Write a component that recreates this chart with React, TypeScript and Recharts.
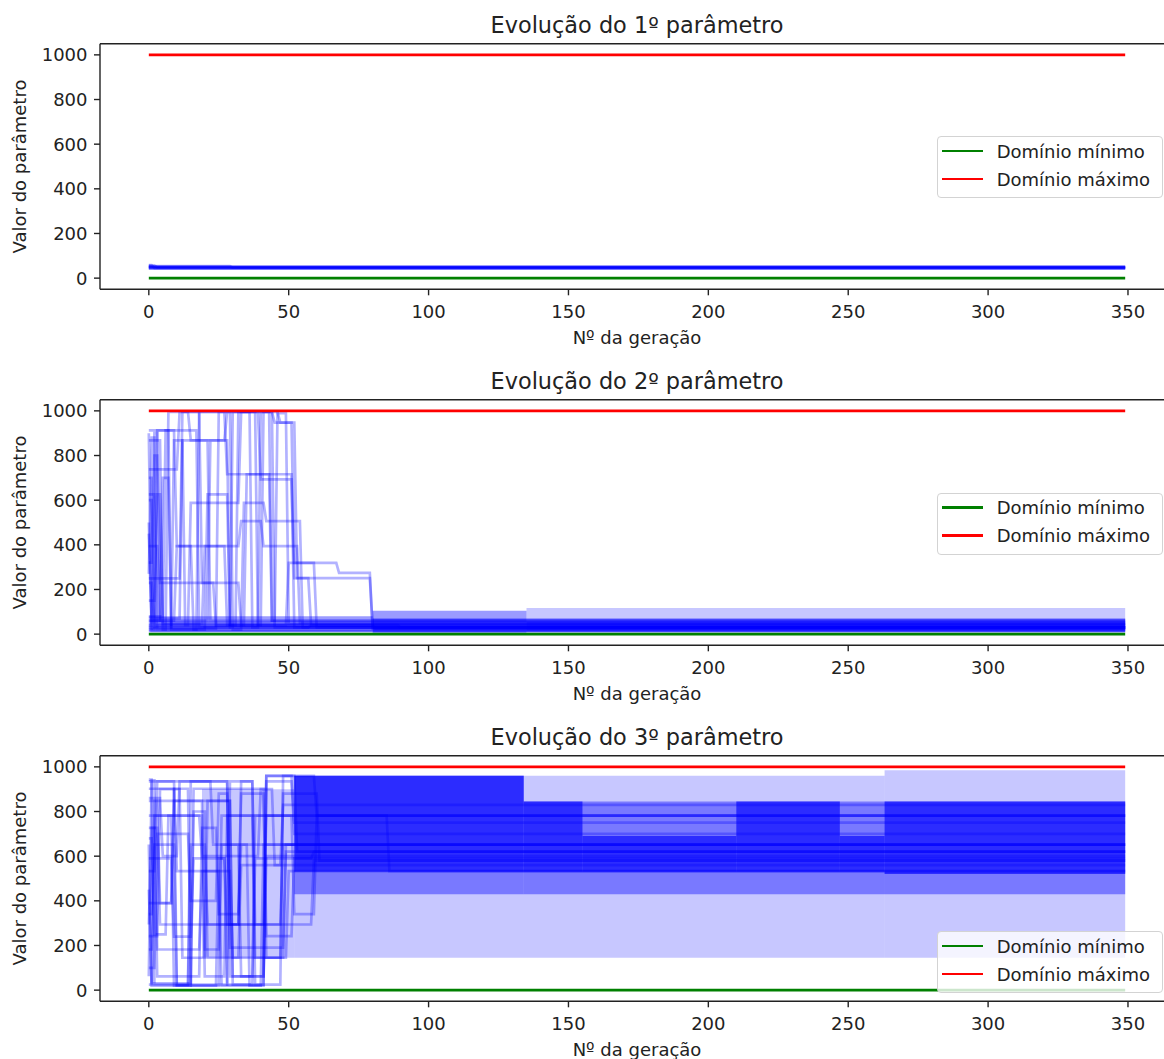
import React from 'react';
import { ComposedChart, Line, XAxis, YAxis, ReferenceArea, ReferenceLine, Legend } from 'recharts';

// generations run 0..349, parameter domain is 0..1000
const FIRST_GEN = 0;
const LAST_GEN = 349;
const DOMAIN_MIN = 0;
const DOMAIN_MAX = 1000;

const X_TICKS = [0, 50, 100, 150, 200, 250, 300, 350];
const Y_TICKS = [0, 200, 400, 600, 800, 1000];

const TITLES = [
  'Evolução do 1º parâmetro',
  'Evolução do 2º parâmetro',
  'Evolução do 3º parâmetro',
];
const X_LABEL = 'Nº da geração';
const Y_LABEL = 'Valor do parâmetro';
const LEGEND_NAMES = ['Domínio mínimo', 'Domínio máximo'];

// each individual: [generation, value] at every change of value
const P1_INDIVIDUALS: number[][][] = [
  [[0, 56], [3, 48]],
  [[0, 58], [2, 45]],
  [[0, 43]],
  [[0, 45]],
  [[0, 46]],
  [[0, 48]],
  [[0, 50]],
  [[0, 54], [30, 47]],
  [[0, 52]],
  [[0, 49]],
];

const P2_INDIVIDUALS: number[][][] = [
  [[0, 913], [18, 30], [58, 40], [81, 25]],
  [[0, 868], [5, 20], [7, 995], [15, 868], [29, 40], [90, 30]],
  [[0, 738], [11, 995], [28, 716], [52, 30]],
  [[0, 626], [3, 20], [21, 626], [29, 30]],
  [[0, 394], [4, 60], [10, 394], [33, 506], [41, 394], [54, 50]],
  [[0, 250], [12, 995], [19, 230], [33, 40]],
  [[0, 230], [2, 40], [15, 588], [33, 995], [45, 947], [52, 319], [68, 274], [80, 25]],
  [[0, 500], [1, 60], [22, 868], [28, 995], [40, 693], [52, 251], [80, 30]],
  [[0, 150], [3, 913], [8, 30], [30, 995], [44, 60]],
  [[0, 60], [5, 700], [8, 20], [18, 995], [39, 40]],
  [[0, 30], [9, 868], [13, 40], [32, 995], [37, 30]],
  [[0, 80], [6, 913], [10, 394], [16, 20], [34, 588], [42, 506], [55, 30]],
  [[0, 40], [2, 800], [4, 230], [24, 40], [41, 995], [47, 947], [53, 251], [58, 40]],
  [[0, 20], [3, 626], [5, 45], [20, 394], [28, 40], [50, 319], [60, 30]],
  [[0, 700], [2, 30], [40, 995], [45, 30]],
  [[0, 450], [1, 25], [25, 995], [30, 20]],
  [[0, 320], [2, 900], [4, 50]],
  [[0, 900], [1, 15]],
  [[0, 600], [2, 70], [12, 868], [22, 60], [46, 990], [50, 45]],
  [[0, 270], [1, 880], [3, 40], [35, 716], [44, 60]],
];

const P3_INDIVIDUALS: number[][][] = [
  [[0, 943], [2, 25], [15, 935], [29, 62], [42, 960], [60, 782]],
  [[0, 935], [29, 294], [33, 935], [38, 145], [49, 652]],
  [[0, 902], [10, 20], [16, 902], [42, 242], [52, 590]],
  [[0, 848], [4, 390], [9, 848], [30, 25], [48, 960], [53, 620]],
  [[0, 782], [20, 182], [26, 782], [86, 533]],
  [[0, 727], [3, 62], [19, 727], [25, 340], [33, 652]],
  [[0, 652], [1, 20], [15, 652], [21, 294], [42, 782], [52, 340], [60, 782]],
  [[0, 590], [9, 240], [16, 590], [28, 25], [38, 590], [59, 620]],
  [[0, 533], [3, 935], [10, 533], [30, 145], [48, 880], [61, 580]],
  [[0, 390], [9, 902], [15, 20], [26, 652], [33, 62], [42, 600]],
  [[0, 340], [2, 848], [20, 62], [28, 782], [38, 25], [42, 935], [52, 700]],
  [[0, 294], [1, 727], [4, 294], [33, 880], [42, 145], [50, 533]],
  [[0, 242], [4, 900], [12, 145], [21, 848], [30, 62], [38, 782]],
  [[0, 182], [2, 782], [9, 20], [25, 590], [28, 294], [48, 652]],
  [[0, 62], [1, 940], [3, 182], [19, 533], [26, 20], [42, 960], [52, 750]],
  [[0, 25], [2, 652], [10, 25], [29, 935], [38, 294], [59, 580]],
  [[0, 450], [1, 30], [16, 800], [21, 145], [33, 560], [48, 830]],
  [[0, 100], [3, 700], [15, 400], [25, 880], [29, 190], [49, 620]],
  [[0, 860], [5, 600], [11, 935], [23, 652], [36, 20], [41, 652]],
  [[0, 680], [2, 250], [7, 782], [19, 600], [40, 900], [45, 560]],
];

// oscillating populations seen as shaded bands:
// [from gen, to gen, low value, high value, overlapping individuals]
const P1_BANDS: number[][] = [];

const P2_BANDS: number[][] = [
  [0, 80, 8, 80, 2],
  [80, 135, 5, 105, 2],
  [135, 349, 5, 117, 1],
  [80, 349, 10, 70, 3],
  [135, 349, 15, 55, 2],
];

const P3_BANDS: number[][] = [
  [19, 52, 145, 900, 1],
  [52, 263, 145, 960, 1],
  [263, 349, 145, 985, 1],
  [52, 134, 430, 960, 2],
  [134, 349, 430, 845, 2],
  [52, 134, 530, 960, 4],
  [134, 155, 530, 845, 4],
  [155, 210, 530, 690, 4],
  [210, 247, 530, 845, 4],
  [247, 263, 530, 690, 4],
  [263, 349, 520, 845, 4],
];

const PANELS = [
  { individuals: P1_INDIVIDUALS, bands: P1_BANDS, legendTop: 136 },
  { individuals: P2_INDIVIDUALS, bands: P2_BANDS, legendTop: 137 },
  { individuals: P3_INDIVIDUALS, bands: P3_BANDS, legendTop: 219 },
];

const PANEL_TOPS = [0, 355.6, 712];

const LINE_ALPHA = 0.3;
const BAND_ALPHA = 0.22;
const TEXT = '#222';
const SPINE = { stroke: '#222', strokeWidth: 1.4 };

const xPad = (LAST_GEN - FIRST_GEN) * 0.05;
const yPad = (DOMAIN_MAX - DOMAIN_MIN) * 0.05;
const X_DOMAIN = [FIRST_GEN - xPad, LAST_GEN + xPad];
const Y_DOMAIN = [DOMAIN_MIN - yPad, DOMAIN_MAX + yPad];

const toPoints = (keys: number[][]) => {
  const pts: { gen: number; value: number }[] = [];
  keys.forEach(([g, v], i) => {
    const end = i + 1 < keys.length ? keys[i + 1][0] - 1 : LAST_GEN;
    pts.push({ gen: g, value: v });
    if (end > g) pts.push({ gen: end, value: v });
  });
  return pts;
};

const minLine = [
  { gen: FIRST_GEN, value: DOMAIN_MIN },
  { gen: LAST_GEN, value: DOMAIN_MIN },
];
const maxLine = [
  { gen: FIRST_GEN, value: DOMAIN_MAX },
  { gen: LAST_GEN, value: DOMAIN_MAX },
];
const LEGEND_COLORS = ['#008000', '#ff0000'];

const renderLegend = () => (
  <div
    style={{
      position: 'relative',
      boxSizing: 'border-box',
      width: 226,
      height: 62,
      border: '1px solid #d3d3d3',
      borderRadius: 4,
      background: 'rgba(255,255,255,0.8)',
    }}
  >
    {LEGEND_NAMES.map((name, i) => (
      <div
        key={name}
        style={{
          position: 'absolute',
          left: 0,
          top: 2 + i * 28,
          height: 24,
          display: 'flex',
          alignItems: 'center',
          whiteSpace: 'nowrap',
        }}
      >
        <span
          style={{
            display: 'inline-block',
            marginLeft: 4,
            width: 41,
            height: 2.7,
            background: LEGEND_COLORS[i],
          }}
        />
        <span style={{ marginLeft: 14, fontSize: 18, color: TEXT }}>{name}</span>
      </div>
    ))}
  </div>
);

function Panel({ index }: { index: number }) {
  const { individuals, bands, legendTop } = PANELS[index];
  return (
    <ComposedChart
      width={1200}
      height={356}
      margin={{ top: 43.7, right: 26, bottom: 6.7, left: 0 }}
    >
      <XAxis
        type="number"
        dataKey="gen"
        domain={X_DOMAIN}
        ticks={X_TICKS}
        allowDataOverflow
        height={60}
        tickSize={6}
        tickMargin={10}
        tick={{ fill: TEXT, fontSize: 18 }}
        tickLine={SPINE}
        axisLine={SPINE}
        label={{
          value: X_LABEL,
          position: 'insideBottom',
          offset: 5.3,
          fill: TEXT,
          fontSize: 18,
        }}
      />
      <YAxis
        type="number"
        domain={Y_DOMAIN}
        ticks={Y_TICKS}
        allowDataOverflow
        width={100}
        tickSize={6}
        tickMargin={6.5}
        tick={{ fill: TEXT, fontSize: 18 }}
        tickLine={SPINE}
        axisLine={SPINE}
        label={{
          value: Y_LABEL,
          angle: -90,
          position: 'insideLeft',
          offset: 20,
          fill: TEXT,
          fontSize: 18,
          style: { textAnchor: 'middle' },
        }}
      />
      {/* top spine, carrying the panel title */}
      <ReferenceLine
        y={Y_DOMAIN[1]}
        ifOverflow="visible"
        stroke={SPINE.stroke}
        strokeWidth={SPINE.strokeWidth}
        label={{
          value: TITLES[index],
          position: 'top',
          offset: 10.7,
          fill: TEXT,
          fontSize: 22.4,
        }}
      />
      {bands.map(([from, to, low, high, n], i) => (
        <ReferenceArea
          key={`band-${i}`}
          x1={from}
          x2={to}
          y1={low}
          y2={high}
          fill="#0000ff"
          fillOpacity={1 - Math.pow(1 - BAND_ALPHA, n)}
          stroke="none"
          ifOverflow="visible"
        />
      ))}
      {individuals.map((keys, i) => (
        <Line
          key={`ind-${i}`}
          data={toPoints(keys)}
          dataKey="value"
          type="linear"
          stroke="#0000ff"
          strokeOpacity={LINE_ALPHA}
          strokeWidth={2.7}
          dot={false}
          activeDot={false}
          legendType="none"
          isAnimationActive={false}
        />
      ))}
      <Line
        data={minLine}
        dataKey="value"
        name={LEGEND_NAMES[0]}
        stroke={LEGEND_COLORS[0]}
        strokeWidth={2.7}
        dot={false}
        isAnimationActive={false}
      />
      <Line
        data={maxLine}
        dataKey="value"
        name={LEGEND_NAMES[1]}
        stroke={LEGEND_COLORS[1]}
        strokeWidth={2.7}
        dot={false}
        isAnimationActive={false}
      />
      <Legend
        layout="vertical"
        align="center"
        verticalAlign="middle"
        content={renderLegend}
        wrapperStyle={{ left: 936.7, top: legendTop, width: 226, height: 62 }}
      />
    </ComposedChart>
  );
}

export default function App() {
  return (
    <div
      style={{
        position: 'fixed',
        left: 0,
        top: 0,
        width: 1164,
        height: 1059,
        overflow: 'hidden',
        background: '#fff',
        fontFamily: '"DejaVu Sans", sans-serif',
      }}
    >
      {PANEL_TOPS.map((top, i) => (
        <div key={i} style={{ position: 'absolute', left: 0, top }}>
          <Panel index={i} />
        </div>
      ))}
    </div>
  );
}
